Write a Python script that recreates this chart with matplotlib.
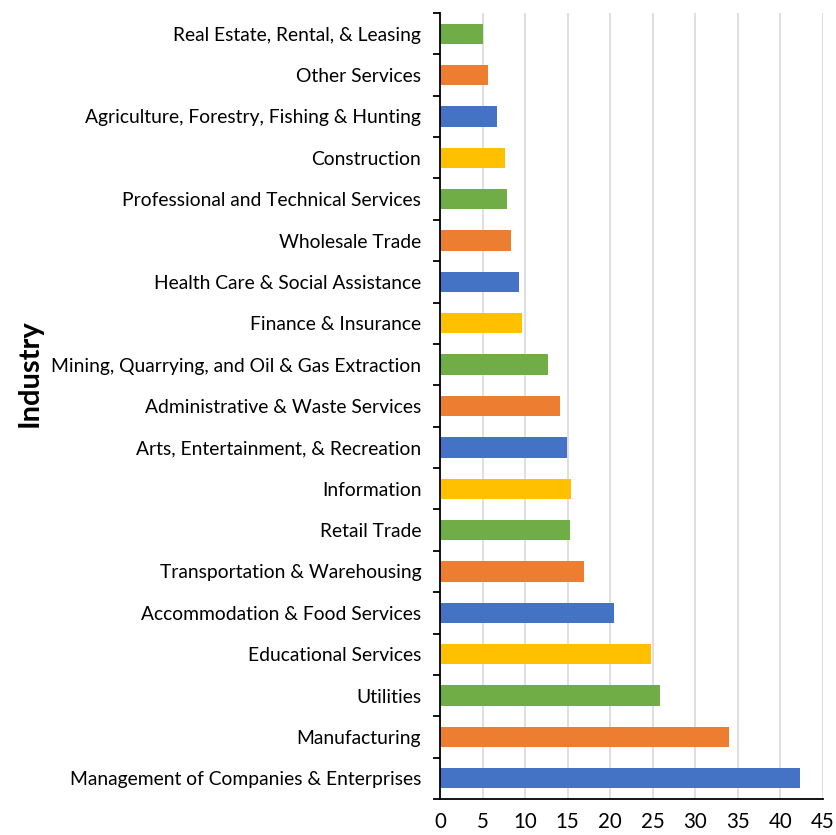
import matplotlib
matplotlib.use("Agg")
import matplotlib.pyplot as plt
import numpy as np

industries = [
    "Management of Companies & Enterprises",
    "Manufacturing",
    "Utilities",
    "Educational Services",
    "Accommodation & Food Services",
    "Transportation & Warehousing",
    "Retail Trade",
    "Information",
    "Arts, Entertainment, & Recreation",
    "Administrative & Waste Services",
    "Mining, Quarrying, and Oil & Gas Extraction",
    "Finance & Insurance",
    "Health Care & Social Assistance",
    "Wholesale Trade",
    "Professional and Technical Services",
    "Construction",
    "Agriculture, Forestry, Fishing & Hunting",
    "Other Services",
    "Real Estate, Rental, & Leasing",
]
values = [42.3, 33.9, 25.8, 24.8, 20.5, 16.9, 15.3, 15.4, 14.9, 14.1,
          12.7, 9.6, 9.25, 8.4, 7.85, 7.6, 6.65, 5.6, 5.1]
palette = ["#4472C4", "#ED7D31", "#70AD47", "#FFC000"]
xticks = [0, 5, 10, 15, 20, 25, 30, 35, 40, 45]

plt.rcParams['font.family'] = ['Lato', 'DejaVu Sans']

fig = plt.figure(figsize=(8.37, 8.35), dpi=100)
ax = fig.add_axes([440/837, 1-799/835, (823-440)/837, (799-13)/835])

y = np.arange(len(industries))
colors = [palette[i % 4] for i in range(len(industries))]
ax.barh(y, values, height=0.49, color=colors, zorder=3)

ax.set_xlim(0, 45)
ax.set_ylim(-0.5, len(industries) - 0.5)
ax.set_xticks(xticks)
ax.set_xticklabels([str(t) for t in xticks], fontsize=14.8, color="#000000")
ax.set_yticks(y)
ax.set_yticklabels(industries, fontsize=13.9, color="#000000")
ax.set_yticks(np.arange(-0.5, len(industries)), minor=True)
ax.tick_params(axis='y', which='major', length=0, pad=13.5)
ax.tick_params(axis='y', which='minor', length=5, width=1.3, color="#000000", direction='out')
ax.tick_params(axis='x', which='major', length=0, pad=9)

ax.grid(axis='x', color="#d9d9d9", linewidth=1.2, zorder=0)
for s in ['top', 'right']:
    ax.spines[s].set_visible(False)
for s in ['left', 'bottom']:
    ax.spines[s].set_color("#000000")
    ax.spines[s].set_linewidth(1.3)
    ax.spines[s].set_zorder(4)

fig.text(30/837, 1-373/835, "Industry", rotation=90, fontsize=21, fontweight='bold',
         ha='center', va='center')

fig.savefig("out.png", dpi=100)
